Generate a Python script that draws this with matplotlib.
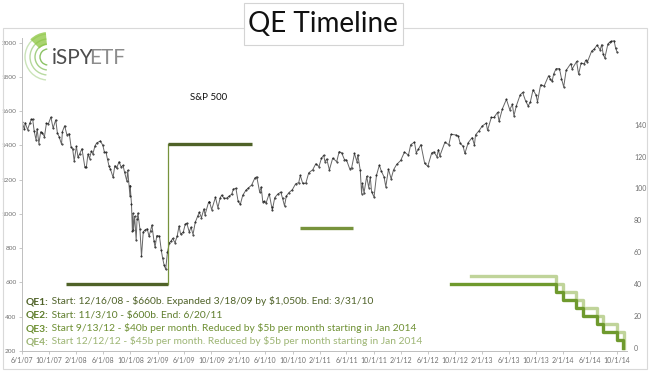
import matplotlib
matplotlib.use("Agg")
import matplotlib.pyplot as plt
from matplotlib.patches import Rectangle, Arc, Wedge
import pandas as pd

# S&P 500 closes
sp_dates = [
    "2007-06-01", "2007-06-12", "2007-06-15", "2007-06-26", "2007-07-06", "2007-07-13", "2007-07-19",
    "2007-07-26", "2007-08-03", "2007-08-08", "2007-08-16", "2007-08-24", "2007-08-31", "2007-09-10",
    "2007-09-19", "2007-09-28", "2007-10-09", "2007-10-19", "2007-10-31", "2007-11-07", "2007-11-15",
    "2007-11-26", "2007-11-30", "2007-12-10", "2007-12-20", "2007-12-31",
    "2008-01-08", "2008-01-15", "2008-01-22", "2008-02-01", "2008-02-08", "2008-02-15", "2008-02-26",
    "2008-03-10", "2008-03-17", "2008-03-24", "2008-03-31", "2008-04-08", "2008-04-15", "2008-04-25",
    "2008-05-02", "2008-05-19", "2008-05-30", "2008-06-06", "2008-06-13", "2008-06-20", "2008-06-27",
    "2008-07-03", "2008-07-15", "2008-07-23", "2008-07-31", "2008-08-11", "2008-08-20", "2008-08-29",
    "2008-09-05", "2008-09-15", "2008-09-19", "2008-09-29", "2008-09-30", "2008-10-06", "2008-10-10",
    "2008-10-13", "2008-10-15", "2008-10-20", "2008-10-27", "2008-10-31", "2008-11-04", "2008-11-13",
    "2008-11-20", "2008-11-28", "2008-12-08", "2008-12-16", "2008-12-24", "2008-12-31",
    "2009-01-06", "2009-01-15", "2009-01-20", "2009-01-28", "2009-02-09", "2009-02-17", "2009-02-23",
    "2009-03-02", "2009-03-09", "2009-03-17", "2009-03-26", "2009-04-03", "2009-04-09", "2009-04-20",
    "2009-04-30", "2009-05-08", "2009-05-15", "2009-05-27", "2009-06-05", "2009-06-12", "2009-06-23",
    "2009-07-01", "2009-07-10", "2009-07-20", "2009-07-31", "2009-08-07", "2009-08-17", "2009-08-28",
    "2009-09-02", "2009-09-18", "2009-09-22", "2009-10-02", "2009-10-19", "2009-10-30", "2009-11-09",
    "2009-11-16", "2009-11-27", "2009-12-08", "2009-12-18", "2009-12-31",
    "2010-01-08", "2010-01-19", "2010-01-29", "2010-02-08", "2010-02-19", "2010-03-05", "2010-03-15",
    "2010-03-31", "2010-04-15", "2010-04-23", "2010-05-06", "2010-05-13", "2010-05-20", "2010-05-25",
    "2010-06-04", "2010-06-18", "2010-06-29", "2010-07-02", "2010-07-13", "2010-07-26", "2010-08-09",
    "2010-08-17", "2010-08-26", "2010-09-03", "2010-09-15", "2010-09-30", "2010-10-15", "2010-10-29",
    "2010-11-05", "2010-11-16", "2010-11-30", "2010-12-13", "2010-12-31",
    "2011-01-14", "2011-01-28", "2011-02-08", "2011-02-18", "2011-02-24", "2011-03-04", "2011-03-16",
    "2011-03-31", "2011-04-18", "2011-04-29", "2011-05-10", "2011-05-23", "2011-06-01", "2011-06-15",
    "2011-06-24", "2011-07-07", "2011-07-18", "2011-07-22", "2011-08-02", "2011-08-08", "2011-08-12",
    "2011-08-19", "2011-08-31", "2011-09-09", "2011-09-16", "2011-09-22", "2011-10-03", "2011-10-14",
    "2011-10-27", "2011-11-04", "2011-11-17", "2011-11-25", "2011-12-07", "2011-12-19", "2011-12-30",
    "2012-01-13", "2012-01-31", "2012-02-17", "2012-03-06", "2012-03-16", "2012-04-02", "2012-04-10",
    "2012-04-20", "2012-05-01", "2012-05-18", "2012-06-01", "2012-06-19", "2012-06-29", "2012-07-12",
    "2012-07-19", "2012-07-25", "2012-08-17", "2012-09-04", "2012-09-14", "2012-10-05", "2012-10-16",
    "2012-10-25", "2012-11-07", "2012-11-15", "2012-11-30", "2012-12-18", "2012-12-28",
    "2013-01-02", "2013-01-18", "2013-02-01", "2013-02-19", "2013-02-25", "2013-03-14", "2013-03-26",
    "2013-04-11", "2013-04-18", "2013-05-03", "2013-05-21", "2013-06-05", "2013-06-17", "2013-06-24",
    "2013-07-05", "2013-07-22", "2013-08-02", "2013-08-15", "2013-08-27", "2013-09-06", "2013-09-18",
    "2013-10-01", "2013-10-08", "2013-10-22", "2013-11-07", "2013-11-27", "2013-12-05", "2013-12-13",
    "2013-12-20", "2013-12-31",
    "2014-01-15", "2014-01-24", "2014-02-03", "2014-02-14", "2014-03-07", "2014-03-13", "2014-04-02",
    "2014-04-11", "2014-04-22", "2014-05-07", "2014-05-13", "2014-05-21", "2014-06-09", "2014-06-20",
    "2014-07-03", "2014-07-17", "2014-07-24", "2014-07-31", "2014-08-07", "2014-08-21", "2014-08-29",
    "2014-09-05", "2014-09-18", "2014-09-25", "2014-10-01",
]
sp_values = [
    1536, 1493, 1533, 1492, 1530, 1552, 1553,
    1482, 1433, 1497, 1411, 1479, 1474, 1451,
    1529, 1527, 1565, 1501, 1549, 1475, 1451,
    1407, 1481, 1515, 1463, 1468,
    1390, 1380, 1310, 1395, 1331, 1349, 1381,
    1273, 1276, 1349, 1323, 1366, 1351, 1398,
    1414, 1426, 1400, 1361, 1360, 1318, 1278,
    1262, 1214, 1282, 1267, 1305, 1275, 1283,
    1242, 1192, 1255, 1106, 1166, 1056, 899,
    1003, 907, 986, 848, 968, 1005, 911,
    752, 896, 909, 913, 869, 903,
    935, 844, 805, 874, 870, 789, 743,
    700, 677, 778, 832, 843, 857, 832,
    873, 929, 882, 893, 940, 946, 895,
    923, 880, 951, 987, 1010, 979, 1029,
    995, 1068, 1072, 1025, 1097, 1036, 1093,
    1110, 1091, 1092, 1102, 1115,
    1145, 1150, 1074, 1056, 1109, 1138, 1150,
    1169, 1211, 1217, 1128, 1157, 1071, 1074,
    1064, 1118, 1041, 1022, 1095, 1115, 1128,
    1092, 1047, 1104, 1125, 1141, 1176, 1183,
    1225, 1178, 1180, 1240, 1258,
    1293, 1276, 1324, 1343, 1306, 1321, 1257,
    1326, 1305, 1364, 1357, 1317, 1315, 1265,
    1268, 1353, 1305, 1345, 1254, 1119, 1179,
    1123, 1219, 1154, 1216, 1129, 1099, 1225,
    1285, 1253, 1216, 1159, 1261, 1205, 1258,
    1289, 1312, 1361, 1343, 1404, 1419, 1358,
    1378, 1405, 1295, 1278, 1357, 1362, 1334,
    1376, 1338, 1418, 1404, 1465, 1461, 1455,
    1412, 1395, 1353, 1416, 1446, 1402,
    1462, 1486, 1513, 1530, 1488, 1563, 1563,
    1593, 1541, 1614, 1669, 1609, 1639, 1573,
    1632, 1695, 1709, 1661, 1630, 1655, 1725,
    1695, 1655, 1754, 1747, 1807, 1785, 1775,
    1818, 1848,
    1848, 1790, 1742, 1838, 1878, 1846, 1890,
    1815, 1879, 1878, 1897, 1888, 1951, 1962,
    1985, 1958, 1988, 1931, 1910, 1992, 2003,
    2007, 2011, 1966, 1946,
]

# QE programmes, $b per month (right axis)
qe1_low_dates = ["2007-12-16", "2009-03-18"]
qe1_low_values = [40, 40]
qe1_high_dates = ["2009-03-18", "2010-03-31"]
qe1_high_values = [128, 128]
qe2_dates = ["2010-11-03", "2011-06-30"]
qe2_values = [75, 75]
qe3_dates = ["2012-09-13", "2014-01-01", "2014-02-01", "2014-04-01", "2014-05-01",
             "2014-07-01", "2014-08-01", "2014-10-01", "2014-10-29", "2014-10-29"]
qe3_values = [40, 35, 30, 25, 20, 15, 10, 5, 0, 0]
qe4_dates = ["2012-12-12", "2014-01-01", "2014-02-01", "2014-04-01", "2014-05-01",
             "2014-07-01", "2014-08-01", "2014-10-01", "2014-10-29", "2014-10-31"]
qe4_values = [45, 40, 35, 30, 25, 20, 15, 10, 10, 0]

notes = [
    ("QE1:", " Start: 12/16/08 - \\$660b. Expanded 3/18/09 by \\$1,050b. End: 3/31/10", "#4f6228"),
    ("QE2:", " Start: 11/3/10 - \\$600b. End: 6/20/11", "#5e7d2c"),
    ("QE3:", " Start 9/13/12 - \\$40b per month. Reduced by \\$5b per month starting in Jan 2014", "#6e9033"),
    ("QE4:", " Start 12/12/12 - \\$45b per month. Reduced by \\$5b per month starting in Jan 2014", "#9db574"),
]

W, H = 650, 372
plt.rcParams["font.family"] = ["Lato", "DejaVu Sans"]
fig = plt.figure(figsize=(W / 100, H / 100), dpi=100)


def fx(px):
    return px / W


def fy(py):
    return 1 - py / H


# outer frame and title box
fig.add_artist(Rectangle((fx(3), fy(369)), fx(644), (366 - 25) / H, transform=fig.transFigure,
                         fill=False, edgecolor="#d9d9d9", lw=0.8))
fig.add_artist(Rectangle((fx(244), fy(45)), fx(159), 42 / H, transform=fig.transFigure,
                         facecolor="white", edgecolor="#d4d4d4", lw=0.8, zorder=5))
fig.text(fx(323), fy(24), "QE Timeline", ha="center", va="center", fontsize=20, color="#111111", zorder=6)

ax = fig.add_axes([fx(22), 21 / H, 605 / W, 313 / H])
x = pd.to_datetime(sp_dates)
ax.plot(x, sp_values, color="#666666", lw=0.7, marker=".", ms=0.9, mfc="#111111", mec="#111111")
ax.set_ylim(200, 2027)
ax.set_yticks(range(200, 2001, 200))
ax.set_xlim(pd.Timestamp("2007-06-01"), pd.Timestamp("2014-11-15"))
ticks = pd.date_range("2007-06-01", "2014-10-01", freq="4MS")
ax.set_xticks(ticks)
ax.set_xticklabels([f"{d.month}/{d.day}/{d:%y}" for d in ticks])
for s in ["top", "right"]:
    ax.spines[s].set_visible(False)
for s in ["left", "bottom"]:
    ax.spines[s].set_color("#bfbfbf")
    ax.spines[s].set_linewidth(0.7)
ax.tick_params(axis="both", color="#bfbfbf", length=2, width=0.6, pad=2, labelcolor="#707070")
ax.tick_params(axis="x", labelsize=5)
ax.tick_params(axis="y", labelsize=4.6)

ax2 = ax.twinx()
ax2.set_ylim(-1.9, 194.3)
ax2.set_yticks(range(0, 141, 20))
for s in ax2.spines.values():
    s.set_visible(False)
ax2.tick_params(axis="y", labelsize=5, labelcolor="#707070", length=0, pad=5)

ax2.plot(pd.to_datetime(qe1_low_dates), qe1_low_values, color="#4f6228", lw=2.4, solid_capstyle="butt")
ax2.plot(pd.to_datetime([qe1_high_dates[0], qe1_high_dates[0]]), [qe1_low_values[0], qe1_high_values[0]],
         color="#77933c", lw=0.9)
ax2.plot(pd.to_datetime(qe1_high_dates), qe1_high_values, color="#4f6228", lw=2.4, solid_capstyle="butt")
ax2.plot(pd.to_datetime(qe2_dates), qe2_values, color="#77933c", lw=2.4, solid_capstyle="butt")
ax2.plot(pd.to_datetime(qe4_dates), qe4_values, color="#c0d49a", lw=2.4, drawstyle="steps-post")
ax2.plot(pd.to_datetime(qe3_dates), qe3_values, color="#6f9a2e", lw=2.4, drawstyle="steps-post")

fig.text(fx(190), fy(97), "S&P 500", ha="left", va="center", fontsize=7, color="#111111")

# notes at the bottom
for i, (head, rest, col) in enumerate(notes):
    t = fig.text(fx(26), fy(302 + 13.3 * i), head, ha="left", va="center", fontsize=7.4,
                 fontweight="bold", color=col)
    ax.annotate(rest, xy=(1, 0), xycoords=t, ha="left", va="bottom", fontsize=7.4, color=col,
                annotation_clip=False)

# logo
lg = fig.add_axes([fx(22), fy(82), 120 / W, 52 / H])
lg.set_xlim(0, 120)
lg.set_ylim(0, 52)
lg.axis("off")
cx, cy = 26, 25
for r, a in [(8, 0.9), (13, 0.7), (18, 0.55), (23, 0.4)]:
    lg.add_patch(Arc((cx, cy), 2 * r, 2 * r, theta1=95, theta2=265, color="#7dbb52", lw=1.0, alpha=a))
lg.add_patch(Wedge((cx, cy), 25, 95, 135, width=13, color="#8cc63f", alpha=0.75, lw=0))
t1 = lg.text(30, 24, "iSPY", ha="left", va="center", fontsize=15, color="#4d4d4d")
lg.annotate("ETF", xy=(1, 0), xycoords=t1, xytext=(-3, 0), textcoords="offset points",
            ha="left", va="bottom", fontsize=15, color="#8c8c8c")

fig.savefig("out.png", dpi=100)
